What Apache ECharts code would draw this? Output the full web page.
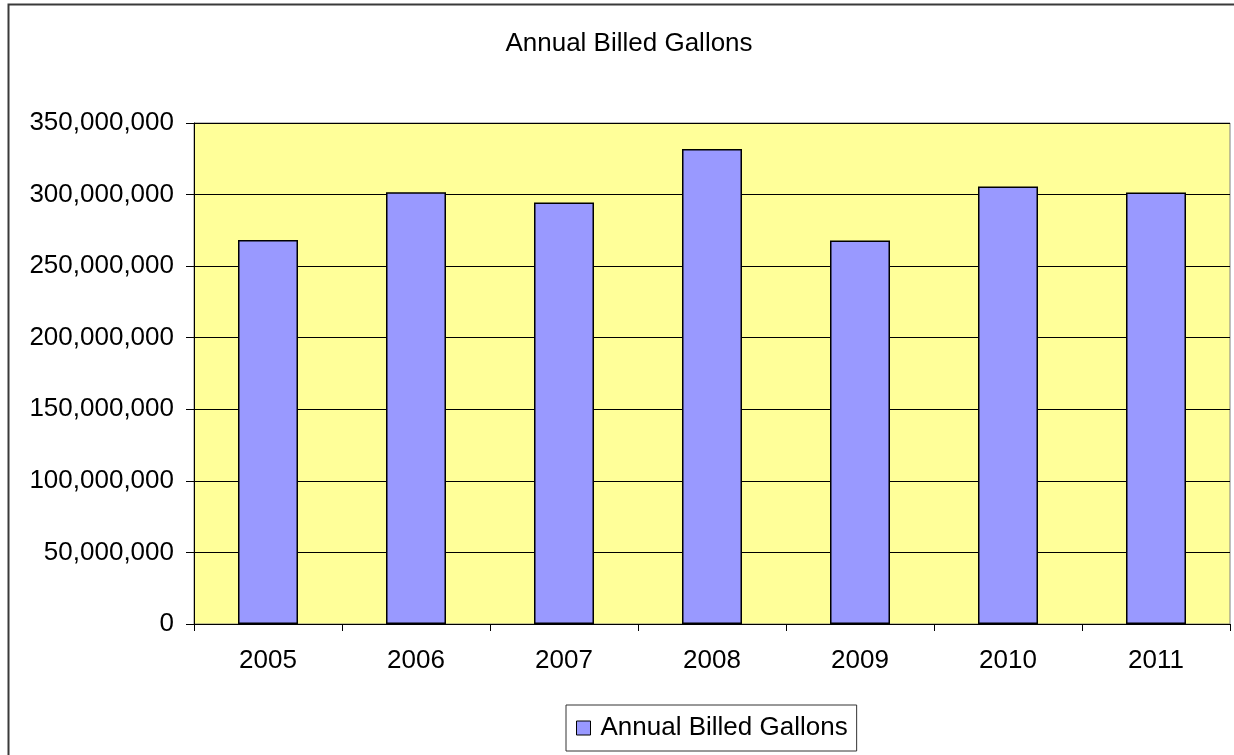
<!DOCTYPE html>
<html>
<head>
<meta charset="utf-8">
<script src="https://cdn.jsdelivr.net/npm/echarts@6/dist/echarts.min.js"></script>
<style>
html,body{margin:0;padding:0;background:#fff;}
#chart{width:1234px;height:755px;}
</style>
</head>
<body>
<div id="chart"></div>
<script>
var titleText = 'Annual Billed Gallons';
var seriesName = 'Annual Billed Gallons';
var categories = ['2005', '2006', '2007', '2008', '2009', '2010', '2011'];
var gallons = [268200000, 301700000, 294500000, 331900000, 267900000, 305600000, 301500000];
var yMin = 0, yMax = 350000000, yStep = 50000000;

var FONT = '"Liberation Sans", Arial, sans-serif';
var chart = echarts.init(document.getElementById('chart'));
chart.setOption({
  animation: false,
  backgroundColor: '#ffffff',
  graphic: [
    {
      type: 'rect', silent: true, z: -10,
      shape: { x: 8.5, y: 4.5, width: 1400, height: 900 },
      style: { fill: 'none', stroke: '#3a3a3a', lineWidth: 2 }
    },
    {
      type: 'text', silent: true,
      x: 629, y: 44,
      style: { text: titleText, font: '26px ' + FONT, fill: '#000', align: 'center', verticalAlign: 'middle' }
    }
  ],
  grid: {
    left: 194, top: 123, right: 4, bottom: 131,
    show: true, backgroundColor: '#ffff99', borderColor: '#808080', borderWidth: 1,
    outerBoundsMode: 'none'
  },
  legend: {
    data: [seriesName],
    left: 566, top: 705,
    padding: [10, 9, 10, 10],
    borderColor: '#333', borderWidth: 1,
    itemWidth: 14, itemHeight: 14,
    icon: 'rect',
    itemStyle: { borderColor: '#000', borderWidth: 1 },
    textStyle: { fontSize: 26, fontFamily: FONT, color: '#000', padding: [0, 0, 0, 5] }
  },
  xAxis: {
    type: 'category',
    data: categories,
    axisLine: { show: true, lineStyle: { color: '#000', width: 1 } },
    axisTick: { show: true, alignWithLabel: false, length: 7, lineStyle: { color: '#000' } },
    axisLabel: { fontSize: 26, fontFamily: FONT, color: '#000', margin: 24 },
    splitLine: { show: false }
  },
  yAxis: {
    type: 'value',
    min: yMin, max: yMax, interval: yStep,
    axisLine: { show: true, lineStyle: { color: '#000', width: 1 } },
    axisTick: { show: true, length: 8, lineStyle: { color: '#000' } },
    axisLabel: {
      fontSize: 26, fontFamily: FONT, color: '#000', margin: 20,
      formatter: function (v) { return v.toLocaleString('en-US'); }
    },
    splitLine: { show: true, lineStyle: { color: '#000', width: 1 } }
  },
  series: [{
    name: seriesName,
    type: 'bar',
    data: gallons,
    barWidth: 60,
    itemStyle: { color: '#9999ff', borderColor: '#000', borderWidth: 1.5 }
  }]
});
</script>
</body>
</html>
